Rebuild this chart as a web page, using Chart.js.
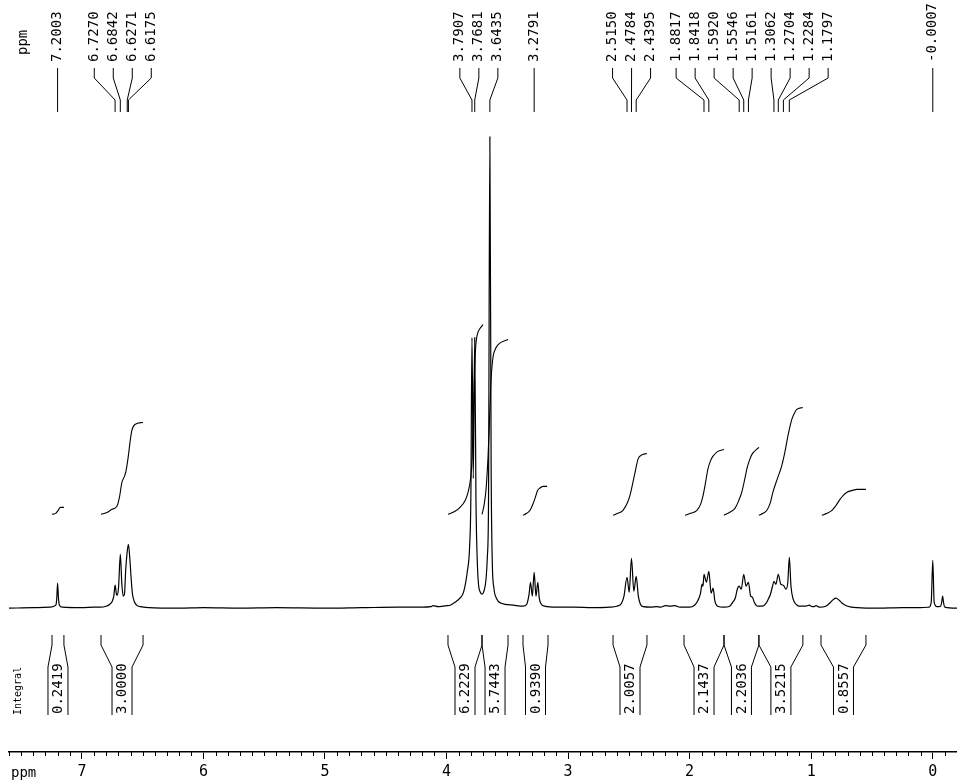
<!DOCTYPE html>
<html>
<head>
<meta charset="utf-8">
<script src="https://cdn.jsdelivr.net/npm/chart.js@4.4.1/dist/chart.umd.min.js"></script>
<style>
  html, body { margin: 0; padding: 0; background: #fff; }
  #wrap { width: 957px; height: 780px; position: relative; }
</style>
</head>
<body>
<div id="wrap"><canvas id="nmr" width="957" height="780"></canvas></div>
<script>
// 1H spectrum trace: [ppm, intensity]
const spectrum = [
  [7.60,0],[7.40,0.5],[7.26,1],[7.215,3],[7.207,10],[7.2003,25],[7.193,10],[7.185,3],[7.16,1],
  [7.00,0.5],[6.90,1],[6.85,1],[6.80,2],[6.77,4],[6.75,7],[6.738,12],[6.727,23],[6.716,14],
  [6.708,13],[6.698,22],[6.684,54],[6.672,25],[6.660,12],[6.650,14],[6.640,38],[6.628,56],
  [6.6175,64],[6.605,48],[6.595,30],[6.585,15],[6.57,7],[6.55,3],[6.52,1.5],[6.45,0.5],
  [6.2,0],[6.0,0.5],[5.7,0],[5.4,0.5],[5.0,0],[4.7,0.5],[4.4,1],[4.2,1],[4.13,1.5],[4.11,2.5],
  [4.07,1.5],[4.03,2],[4.00,2.5],[3.97,3],[3.93,6],[3.89,10],[3.86,16],[3.83,36],[3.81,62],
  [3.800,110],[3.7907,271],[3.780,130],[3.7681,271],[3.758,110],[3.748,50],[3.737,24],
  [3.722,16],[3.708,14],[3.690,18],[3.676,28],[3.664,52],[3.655,100],[3.6435,472],[3.633,140],
  [3.624,48],[3.610,20],[3.59,10],[3.55,5],[3.45,3],[3.37,2],[3.34,4],[3.321,14],[3.309,26],
  [3.294,12],[3.2791,36],[3.264,12],[3.249,26],[3.237,10],[3.22,4],[3.19,2],[3.10,1],[2.95,1],
  [2.80,0.5],[2.66,1],[2.60,2],[2.56,5],[2.54,12],[2.515,31],[2.497,16],[2.4784,50],[2.459,17],
  [2.4395,32],[2.422,12],[2.405,4],[2.38,1.5],[2.32,1],[2.27,1.5],[2.24,1],[2.20,2.5],[2.16,2],
  [2.12,2.5],[2.08,1],[2.00,1],[1.96,3],[1.935,7],[1.912,14],[1.897,24],[1.890,22],[1.8817,34],
  [1.862,26],[1.8418,37],[1.823,15],[1.807,20],[1.792,7],[1.77,2],[1.72,1],[1.67,2],[1.645,6],
  [1.625,10],[1.605,20],[1.5920,22],[1.575,19],[1.5546,34],[1.536,22],[1.5161,26],[1.498,12],
  [1.483,11],[1.468,6],[1.44,2],[1.40,2],[1.37,5],[1.353,9],[1.335,14],[1.318,22],[1.3062,27],
  [1.290,24],[1.2704,34],[1.250,24],[1.2284,23],[1.207,19],[1.192,26],[1.1797,51],[1.166,22],
  [1.148,9],[1.125,4],[1.10,2],[1.05,2],[1.015,3],[1.00,2],[0.98,1.5],[0.96,2.5],[0.93,1],
  [0.88,2],[0.84,6],[0.815,9],[0.795,10],[0.77,8],[0.745,5],[0.70,2],[0.62,0.5],[0.45,0],
  [0.25,0.5],[0.10,0.5],[0.03,1],[0.012,6],[-0.0007,48],[-0.012,6],[-0.035,1.5],[-0.065,2],
  [-0.074,6],[-0.082,12],[-0.090,5],[-0.10,1],[-0.20,0]
];

// integral traces (same intensity units), one per region
const integralCurves = [
  [[7.246,94],[7.215,95],[7.195,98],[7.178,101],[7.148,101]],
  [[6.843,94],[6.790,96],[6.753,99],[6.712,102],[6.690,112],[6.671,126],[6.650,132],[6.638,137],
   [6.622,149],[6.600,170],[6.589,178],[6.564,184],[6.497,186]],
  [[3.988,94],[3.930,97],[3.889,101],[3.850,107],[3.823,116],[3.800,132],[3.790,150],[3.780,190],
   [3.770,235],[3.760,262],[3.749,273],[3.725,280],[3.700,284]],
  [[3.708,94],[3.690,104],[3.675,119],[3.660,148],[3.650,176],[3.640,210],[3.634,228],[3.617,252],
   [3.600,259],[3.576,264],[3.494,269]],
  [[3.371,93],[3.340,95],[3.313,98],[3.290,104],[3.272,110],[3.250,118],[3.235,120],[3.206,122],[3.173,122]],
  [[2.630,93],[2.590,95],[2.548,98],[2.510,106],[2.491,113],[2.470,124],[2.449,136],[2.425,149],
   [2.400,153],[2.351,155]],
  [[2.038,93],[1.990,95],[1.940,98],[1.910,104],[1.891,112],[1.870,125],[1.850,139],[1.830,147],
   [1.809,152],[1.768,157],[1.718,159]],
  [[1.718,93],[1.670,96],[1.627,100],[1.595,108],[1.569,117],[1.545,130],[1.528,140],[1.505,149],
   [1.487,154],[1.430,161]],
  [[1.430,93],[1.395,95],[1.364,98],[1.335,106],[1.315,116],[1.280,129],[1.241,143],[1.215,157],
   [1.192,172],[1.170,184],[1.159,189],[1.135,196],[1.118,199],[1.069,201]],
  [[0.912,93],[0.870,95],[0.829,98],[0.795,103],[0.763,109],[0.735,113],[0.705,116],[0.660,118],
   [0.623,119],[0.549,119]]
];

// peak picking labels
const peakPpm = [7.2003, 6.7270, 6.6842, 6.6271, 6.6175, 3.7907, 3.7681, 3.6435, 3.2791,
  2.5150, 2.4784, 2.4395, 1.8817, 1.8418, 1.5920, 1.5546, 1.5161, 1.3062, 1.2704, 1.2284,
  1.1797, -0.0007];

// integration regions
const integralFrom = [7.246, 6.843, 3.988, 3.708, 3.371, 2.630, 2.046, 1.717, 1.430, 0.919];
const integralTo = [7.148, 6.497, 3.708, 3.494, 3.165, 2.351, 1.717, 1.430, 1.068, 0.549];
const integralValues = [0.2419, 3.0000, 6.2229, 5.7443, 0.9390, 2.0057, 2.1437, 2.2036, 3.5215, 0.8557];

const xMin = -0.2, xMax = 7.6;
const MONO = '"DejaVu Sans Mono", monospace';

function toPoints(arr) {
  return arr.map(function(p) { return { x: p[0], y: p[1] }; });
}

function vText(ctx, text, x, y, font) {
  // text rotated to read bottom-to-top, starting at (x, y)
  ctx.save();
  ctx.translate(x, y);
  ctx.rotate(-Math.PI / 2);
  ctx.font = font;
  ctx.textAlign = 'left';
  ctx.textBaseline = 'middle';
  ctx.fillText(text, 0, 0);
  ctx.restore();
}

// spread label positions so they don't collide
function spreadLabels(px, gap) {
  let clusters = px.map(function(p, i) { return { idx: [i], center: p }; });
  let merged = true;
  while (merged) {
    merged = false;
    for (let i = 0; i < clusters.length - 1; i++) {
      const a = clusters[i], b = clusters[i + 1];
      const aRight = a.center + (a.idx.length - 1) / 2 * gap;
      const bLeft = b.center - (b.idx.length - 1) / 2 * gap;
      if (bLeft - aRight < gap) {
        const idx = a.idx.concat(b.idx);
        const c = idx.reduce(function(s, k) { return s + px[k]; }, 0) / idx.length;
        clusters.splice(i, 2, { idx: idx, center: c });
        merged = true;
        break;
      }
    }
  }
  const out = [];
  clusters.forEach(function(c) {
    c.idx.forEach(function(k, j) {
      out[k] = c.center + (j - (c.idx.length - 1) / 2) * gap;
    });
  });
  return out;
}

const nmrDecor = {
  id: 'nmrDecor',
  afterDraw: function(chart) {
    const ctx = chart.ctx;
    const xs = chart.scales.x;
    ctx.save();
    ctx.strokeStyle = '#000';
    ctx.fillStyle = '#000';
    ctx.lineWidth = 1;

    // minor ticks every 0.1 ppm
    const y0 = xs.top;
    ctx.beginPath();
    for (let k = Math.round(xMin * 10); k <= Math.round(xMax * 10); k++) {
      if (k % 10 === 0) continue;
      const px = Math.round(xs.getPixelForValue(k / 10)) + 0.5;
      ctx.moveTo(px, y0);
      ctx.lineTo(px, y0 + 4);
    }
    ctx.stroke();

    // "ppm" under the axis
    ctx.font = '14px ' + MONO;
    ctx.textAlign = 'left';
    ctx.textBaseline = 'middle';
    ctx.fillText('ppm', 11, 773);

    // peak labels at the top
    const peakPx = peakPpm.map(function(v) { return xs.getPixelForValue(v); });
    const labelPx = spreadLabels(peakPx, 19);
    vText(ctx, 'ppm', 23, 55, '14px ' + MONO);
    ctx.beginPath();
    peakPx.forEach(function(px, i) {
      const lx = labelPx[i];
      vText(ctx, peakPpm[i].toFixed(4), lx, 62, '14px ' + MONO);
      ctx.moveTo(lx, 68);
      ctx.lineTo(lx, 78);
      ctx.lineTo(px, 100);
      ctx.lineTo(px, 112);
    });
    ctx.stroke();

    // integral brackets below the trace
    vText(ctx, 'Integral', 18, 715, '10px ' + MONO);
    ctx.beginPath();
    integralValues.forEach(function(val, i) {
      const a = xs.getPixelForValue(integralFrom[i]);
      const b = xs.getPixelForValue(integralTo[i]);
      const c = (a + b) / 2;
      const l = c - 10, r = c + 10;
      ctx.moveTo(a, 635); ctx.lineTo(a, 645); ctx.lineTo(l, 667); ctx.lineTo(l, 715);
      ctx.moveTo(b, 635); ctx.lineTo(b, 645); ctx.lineTo(r, 667); ctx.lineTo(r, 715);
      vText(ctx, val.toFixed(4), c + 0.5, 714, '14px ' + MONO);
    });
    ctx.stroke();
    ctx.restore();
  }
};

const datasets = [{
  data: toPoints(spectrum),
  borderColor: '#000',
  borderWidth: 1.2,
  pointRadius: 0,
  cubicInterpolationMode: 'monotone',
  fill: false
}];
integralCurves.forEach(function(curve) {
  datasets.push({
    data: toPoints(curve),
    borderColor: '#000',
    borderWidth: 1.1,
    pointRadius: 0,
    cubicInterpolationMode: 'monotone',
    fill: false
  });
});

new Chart(document.getElementById('nmr').getContext('2d'), {
  type: 'line',
  data: { datasets: datasets },
  options: {
    responsive: false,
    animation: false,
    layout: { padding: { left: 9, right: 0, top: 0, bottom: -5 } },
    plugins: { legend: { display: false }, tooltip: { enabled: false } },
    scales: {
      x: {
        type: 'linear',
        reverse: true,
        min: xMin,
        max: xMax,
        position: 'bottom',
        border: { display: true, color: '#000', width: 1.5 },
        grid: { drawOnChartArea: false, drawTicks: true, tickLength: 7, color: '#000' },
        ticks: {
          stepSize: 1,
          includeBounds: false,
          color: '#000',
          padding: 4,
          maxRotation: 0,
          font: { family: MONO, size: 15 },
          callback: function(v) { return String(Math.round(v)); }
        }
      },
      y: {
        display: false,
        min: -144,
        max: 609
      }
    }
  },
  plugins: [nmrDecor]
});
</script>
</body>
</html>
